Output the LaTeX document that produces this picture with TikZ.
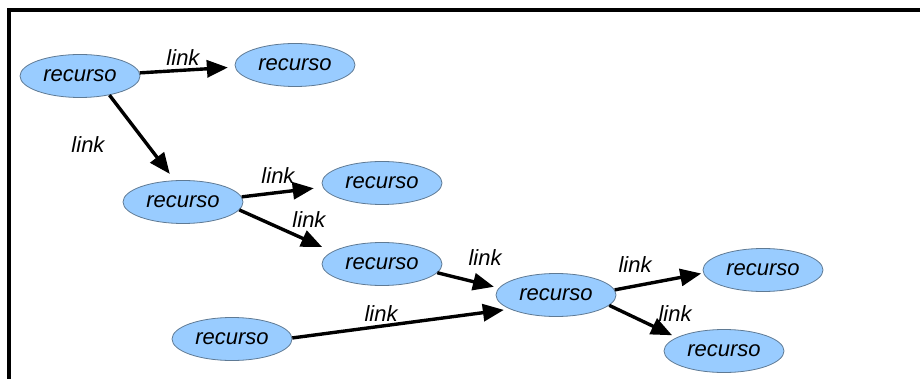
\documentclass[tikz,border=0pt]{standalone}
\usepackage{fontspec}
\setmainfont{Liberation Sans}
\usetikzlibrary{arrows.meta,shapes.geometric}
\definecolor{resfill}{HTML}{99CCFF}
\definecolor{resedge}{HTML}{5F7A94}
\begin{document}
\begin{tikzpicture}[x=1pt,y=-1pt,
  recnode/.style={ellipse,draw=resedge,line width=0.8pt,fill=resfill,
    minimum width=120pt,minimum height=43pt,inner sep=0pt,
    font=\fontsize{22}{26}\selectfont\itshape},
  lbl/.style={inner sep=0pt,font=\fontsize{22}{26}\selectfont\itshape},
  linkarrow/.style={line width=3.4pt,-{Triangle[length=21pt,width=17pt]}}]
\useasboundingbox (0,0) rectangle (920,379);
% frame
\draw[line width=4pt,line cap=butt,line join=miter] (9,379) -- (9,10) -- (920,10);
% resources
\node[recnode] (n1) at (80,76)  {recurso};
\node[recnode] (n2) at (295,65) {recurso};
\node[recnode] (n3) at (183,202) {recurso};
\node[recnode] (n4) at (382,183) {recurso};
\node[recnode] (n5) at (382,264) {recurso};
\node[recnode] (n6) at (556,295) {recurso};
\node[recnode] (n7) at (232,339) {recurso};
\node[recnode] (n8) at (763,270) {recurso};
\node[recnode] (n9) at (724,351) {recurso};
% links
\draw[linkarrow,shorten >=7pt] (n1.3) -- (n2.182);
\draw[linkarrow,shorten >=8pt] (n1.-33) -- (n3.111);
\draw[linkarrow,shorten >=9pt] (n3.5) -- (n4.184);
\draw[linkarrow,shorten >=11pt] (n3.-8) -- (n5.166);
\draw[linkarrow,shorten >=5pt] (n5.-9) -- (n6.173);
\draw[linkarrow,shorten >=6pt] (n7.1) -- (n6.197);
\draw[linkarrow,shorten >=2pt] (n6.5) -- (n8.183);
\draw[linkarrow,shorten >=5pt] (n6.-11) -- (n9.164);
% link labels
\node[lbl] (l1) at (183,58)  {link};
\node[lbl] (l2) at (88,145)  {link};
\node[lbl] (l3) at (278,176) {link};
\node[lbl] (l4) at (309,220) {link};
\node[lbl] (l5) at (485,258) {link};
\node[lbl] (l6) at (381,314) {link};
\node[lbl] (l7) at (635,265) {link};
\node[lbl] (l8) at (675,314) {link};
\end{tikzpicture}
\end{document}
